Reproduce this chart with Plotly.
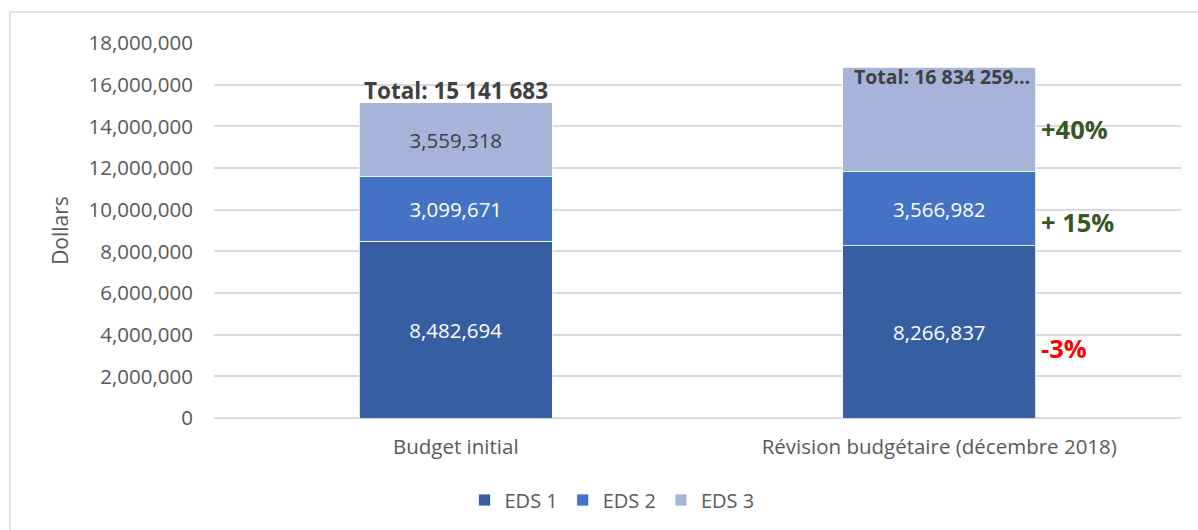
import plotly.graph_objects as go

# Budget par EDS (dollars)
categories = ["Budget initial", "Révision budgétaire (décembre 2018)"]
eds1 = [8482694, 8266837]
eds2 = [3099671, 3566982]
eds3 = [3559318, 5000440]
series_names = ["EDS 1", "EDS 2", "EDS 3"]
change_labels = ["-3%", "+ 15%", "+40%"]
change_label_y = [3350000, 9400000, 13850000]
tick_values = list(range(0, 18000001, 2000000))

colors = ["#355EA3", "#4472C4", "#A6B4DA"]
label_colors = ["white", "white", "#404040"]
FONT = "Open Sans"
GRAY = "#595959"

W, H = 1198, 530
ML, MR, MT, MB = 214, 17, 43, 111


def fmt_comma(v):
    return f"{v:,}"


def fmt_space(v):
    return f"{v:,}".replace(",", " ")


fig = go.Figure()
all_series = [eds1, eds2, eds3]
for i, (name, vals) in enumerate(zip(series_names, all_series)):
    texts = [fmt_comma(v) for v in vals]
    if i == 2:
        texts[1] = ""  # label hidden under the total on the revised bar
    fig.add_trace(go.Bar(
        name=name, x=categories, y=vals,
        marker=dict(color=colors[i], line=dict(color="white", width=0.8)),
        text=texts, textposition="inside", insidetextanchor="middle",
        textfont=dict(family=FONT, size=20.5, color=label_colors[i]),
        hoverinfo="skip",
    ))

totals = [a + b + c for a, b, c in zip(eds1, eds2, eds3)]

fig.add_annotation(x=categories[0], y=totals[0], yanchor="bottom", yshift=-5,
                   text=f"<b>Total: {fmt_space(totals[0])}</b>", showarrow=False,
                   font=dict(family=FONT, size=22.5, color="#404040"))
fig.add_annotation(x=categories[1], y=totals[1], yanchor="top", yshift=6,
                   text=f"<b>Total: {fmt_space(totals[1])}…</b>", showarrow=False,
                   xshift=3,
                   font=dict(family=FONT, size=19.5, color="#404040"))

change_colors = ["#FF0000", "#375623", "#375623"]
for lab, yv, col in zip(change_labels, change_label_y, change_colors):
    fig.add_annotation(x=1, xref="x", y=yv, text=f"<b>{lab}</b>", showarrow=False,
                       xanchor="left", xshift=100,
                       font=dict(family=FONT, size=25.5, color=col))

# outer chart frame (pixel edges converted to paper coordinates)
pw = W - ML - MR
ph = H - MT - MB


def px_x(p):
    return (p - ML) / pw


def px_y(p):
    return (H - MB - p) / ph


fig.add_shape(type="rect", xref="paper", yref="paper",
              x0=px_x(10), x1=px_x(W + 5), y0=px_y(H + 5), y1=px_y(12),
              line=dict(color="#D9D9D9", width=1.5), layer="below")

fig.update_layout(
    width=W, height=H, autosize=False,
    barmode="stack", bargap=0.6,
    margin=dict(l=ML, r=MR, t=MT, b=MB),
    plot_bgcolor="white", paper_bgcolor="white",
    font=dict(family=FONT, color=GRAY),
    showlegend=True,
    legend=dict(orientation="h", x=px_x(612), xanchor="center", y=px_y(500), yanchor="middle",
                font=dict(family=FONT, size=20, color=GRAY), traceorder="normal",
                itemwidth=30),
    xaxis=dict(tickfont=dict(family=FONT, size=20.5, color=GRAY), showline=False,
               ticks="", showgrid=False, ticklabelstandoff=14),
    yaxis=dict(range=[0, 18000000], tickvals=tick_values,
               ticktext=[fmt_comma(v) for v in tick_values],
               tickfont=dict(family=FONT, size=20.5, color=GRAY),
               showgrid=True, gridcolor="#D9D9D9", gridwidth=1.5,
               zeroline=True, zerolinecolor="#D9D9D9", zerolinewidth=1.5,
               ticks="", ticklen=0, ticklabelstandoff=20,
               title=dict(text="Dollars", font=dict(family=FONT, size=21, color=GRAY), standoff=14)),
)

fig.write_html("out.html")
